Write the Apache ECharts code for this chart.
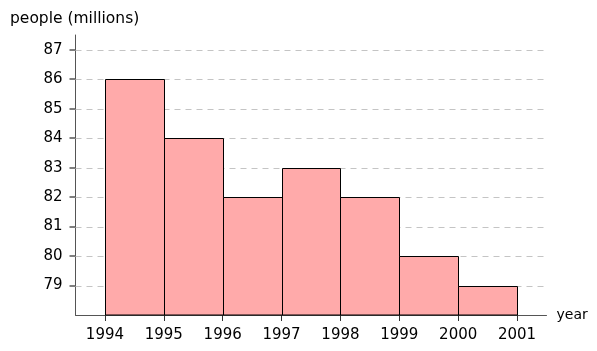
<!DOCTYPE html>
<html><head><meta charset="utf-8">
<script src="https://cdn.jsdelivr.net/npm/echarts@6/dist/echarts.min.js"></script>
<style>html,body{margin:0;padding:0;background:#fff}#c{width:597px;height:351px}</style>
</head><body><div id="c"></div>
<script>
const binStarts = [1994, 1995, 1996, 1997, 1998, 1999, 2000];
const binEnds   = [1995, 1996, 1997, 1998, 1999, 2000, 2001];
const people    = [86, 84, 82, 83, 82, 80, 79];
const xTicks = [1994, 1995, 1996, 1997, 1998, 1999, 2000, 2001];
const yTicks = [79, 80, 81, 82, 83, 84, 85, 86, 87];

const FONT = 'DejaVu Sans';
const chart = echarts.init(document.getElementById('c'), null, {renderer: 'canvas'});
const data = binStarts.map((s, i) => [s, binEnds[i], people[i]]);
chart.setOption({
  animation: false,
  title: {text: 'people (millions)', left: 5, top: 6,
    textStyle: {fontFamily: FONT, fontSize: 15.5, fontWeight: 'normal', color: '#000'}},
  grid: {left: 75.5, right: 50.5, top: 35, bottom: 36, containLabel: false},
  xAxis: {
    type: 'value', min: 1993.5, max: 2001.5,
    name: 'year', nameLocation: 'end', nameGap: 10,
    nameTextStyle: {fontFamily: FONT, fontSize: 14, color: '#000', verticalAlign: 'middle'},
    axisLine: {show: true, lineStyle: {color: '#555', width: 1}},
    axisTick: {show: true, length: 6, inside: false, customValues: xTicks, lineStyle: {color: '#333'}},
    axisLabel: {customValues: xTicks, formatter: v => String(v), margin: 13,
      fontFamily: FONT, fontSize: 15, color: '#000'},
    splitLine: {show: false}
  },
  yAxis: {
    type: 'value', min: 78, max: 87.5,
    axisLine: {show: true, lineStyle: {color: '#555', width: 1}},
    axisTick: {show: true, length: 6, customValues: yTicks, lineStyle: {color: '#555', width: 1.5}},
    axisLabel: {customValues: yTicks, formatter: v => String(v), margin: 13,
      fontFamily: FONT, fontSize: 15, color: '#000'},
    splitLine: {show: false}
  },
  series: [
    {
      type: 'custom', z: 1, silent: true,
      renderItem: function (params, api) {
        const p = api.coord([1993.5, api.value(0)]);
        const cs = params.coordSys;
        const y = Math.round(p[1]) + 0.5;
        return {
          type: 'line',
          shape: {x1: cs.x, y1: y, x2: cs.x + cs.width - 3, y2: y},
          style: {stroke: '#c4c4c4', lineWidth: 1, lineDash: [6, 5]}
        };
      },
      encode: {y: 0},
      data: yTicks.map(v => [v])
    },
    {
      type: 'custom', z: 3,
      renderItem: function (params, api) {
        const p0 = api.coord([api.value(0), api.value(2)]);
        const p1 = api.coord([api.value(1), 78]);
        const x0 = Math.round(p0[0]) + 0.5, x1 = Math.round(p1[0]) + 0.5;
        const y0 = Math.round(p0[1]) + 0.5, y1 = Math.round(p1[1]);
        return {
          type: 'rect',
          shape: {x: x0, y: y0, width: x1 - x0, height: y1 - y0},
          style: {fill: '#ffaaaa', stroke: '#000', lineWidth: 1}
        };
      },
      encode: {x: [0, 1], y: 2},
      data: data
    }
  ]
});
</script></body></html>
